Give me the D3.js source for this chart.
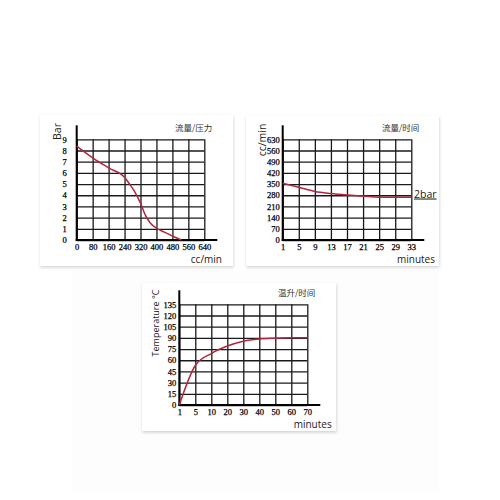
<!DOCTYPE html>
<html>
<head>
<meta charset="utf-8">
<script src="https://cdn.jsdelivr.net/npm/d3@7"></script>
<style>
  body { margin: 0; background: #fff; }
  svg { display: block; }
</style>
</head>
<body>
<div id="chart"></div>
<script>
// flow / pressure
let flowX = [0, 80, 160, 240, 265, 290, 320, 345, 370, 400, 440, 480, 525]
let pressure = [8.4, 7.35, 6.45, 5.6, 5.0, 4.35, 3.3, 2.2, 1.5, 1.05, 0.7, 0.36, 0]
let flowTicks = [0, 80, 160, 240, 320, 400, 480, 560, 640]
let barTicks = [0, 1, 2, 3, 4, 5, 6, 7, 8, 9]

// flow / time
let minutesA = [1, 5, 9, 13, 17, 21, 25, 29, 33]
let flowRate = [355, 330, 304, 291, 282, 275, 268, 267, 267]
let flowRateTicks = [0, 70, 140, 210, 280, 350, 420, 490, 560, 630]

// temperature / time
let minutesB = ['1', '5', '10', '20', '30', '40', '50', '60', '70']
let temperature = [0, 53, 69, 79, 85.5, 88.5, 89.5, 90, 90]
let tempTicks = [0, 15, 30, 45, 60, 75, 90, 105, 120, 135]

let svg = d3.select('#chart').append('svg')
    .attr('width', 500)
    .attr('height', 500)

let defs = svg.append('defs')
let shadow = defs.append('filter').attr('id', 'shadow')
    .attr('x', '-10%').attr('y', '-10%').attr('width', '120%').attr('height', '125%')
shadow.append('feDropShadow')
    .attr('dx', 0.5).attr('dy', 1.5)
    .attr('stdDeviation', 1.5)
    .attr('flood-color', '#000')
    .attr('flood-opacity', 0.18)

// faint backdrop behind the lower card
svg.append('rect')
    .attr('x', 72).attr('y', 270)
    .attr('width', 367).attr('height', 222)
    .attr('fill', '#fdfdfd')

let cards = [[40, 115, 193, 151], [246, 116, 193, 150], [142, 283, 194, 148]]
cards.forEach(function(c){
    svg.append('rect')
        .attr('x', c[0]).attr('y', c[1])
        .attr('width', c[2]).attr('height', c[3])
        .attr('fill', '#fff')
        .attr('filter', 'url(#shadow)')
})

let tickFont = '"Liberation Serif", serif'
let labelFont = '"Open Sans", "Noto Sans", sans-serif'
let red = '#b3263d'

function drawPanel(p){

    let g = svg.append('g')

    // grid
    let gy = g.append('g')
        .attr('transform', 'translate(' + p.x0 + ',0)')
        .call(d3.axisLeft(p.y).tickValues(p.yTicks)
            .tickSizeInner(-(p.x1 - p.x0)).tickSizeOuter(0).tickPadding(p.yPad))
    gy.select('.domain').remove()
    gy.selectAll('line').attr('stroke', '#1a1a1a').attr('stroke-width', 1.3)

    let gx = g.append('g')
        .attr('transform', 'translate(0,' + p.y0 + ')')
        .call(d3.axisBottom(p.x).tickValues(p.xTicks)
            .tickSizeInner(-(p.y0 - p.yTop)).tickSizeOuter(0).tickPadding(4))
    gx.select('.domain').remove()
    gx.selectAll('line').attr('stroke', '#1a1a1a').attr('stroke-width', 1.3)

    g.selectAll('.tick text')
        .attr('font-family', tickFont)
        .attr('font-size', 8.5)
        .attr('fill', '#000')
        .attr('stroke', '#000')
        .attr('stroke-width', 0.25)

    // main axes
    g.append('line')
        .attr('x1', p.x0).attr('x2', p.x0)
        .attr('y1', p.y0 + 1).attr('y2', p.yTop - 14)
        .attr('stroke', '#000').attr('stroke-width', 2)
    g.append('line')
        .attr('x1', p.x0 - 1).attr('x2', p.x1 + 13)
        .attr('y1', p.y0).attr('y2', p.y0)
        .attr('stroke', '#000').attr('stroke-width', 2)

    // curve
    let line = d3.line()
        .x(function(d){ return p.x(d[0]) })
        .y(function(d){ return p.y(d[1]) })
        .curve(d3.curveMonotoneX)

    g.append('path')
        .datum(d3.zip(p.xs, p.ys))
        .attr('d', line)
        .attr('fill', 'none')
        .attr('stroke', red)
        .attr('stroke-width', 1.5)

    // title
    g.append('text')
        .attr('x', p.x1 + 8)
        .attr('y', p.yTop - 8)
        .attr('text-anchor', 'end')
        .attr('font-family', '"Noto Sans CJK SC", sans-serif')
        .attr('font-size', 8.5)
        .attr('fill', '#333')
        .text(p.title)

    // x label
    g.append('text')
        .attr('x', p.xLabelX)
        .attr('y', p.y0 + 22.5)
        .attr('text-anchor', 'end')
        .attr('font-family', labelFont)
        .attr('font-size', 10)
        .attr('fill', '#222')
        .text(p.xLabel)

    // y label
    g.append('text')
        .attr('transform', 'translate(' + p.yLabelX + ',' + p.yLabelY + ') rotate(-90)')
        .attr('text-anchor', 'middle')
        .attr('dy', '0.35em')
        .attr('font-family', labelFont)
        .attr('font-size', p.yLabelSize)
        .attr('fill', '#222')
        .text(p.yLabel)

    return g
}

drawPanel({
    x0: 76.7, x1: 204.3, y0: 240, yTop: 139.3,
    x: d3.scaleLinear().domain([0, 640]).range([76.7, 204.3]),
    y: d3.scaleLinear().domain([0, 9]).range([240, 139.3]),
    xTicks: flowTicks, yTicks: barTicks, yPad: 10,
    xs: flowX, ys: pressure,
    title: '流量/压力', xLabel: 'cc/min', xLabelX: 222,
    yLabel: 'Bar', yLabelX: 57, yLabelY: 131.5, yLabelSize: 10.5
})

let p2 = drawPanel({
    x0: 282.7, x1: 411.3, y0: 240, yTop: 139.3,
    x: d3.scaleLinear().domain([1, 33]).range([282.7, 411.3]),
    y: d3.scaleLinear().domain([0, 630]).range([240, 139.3]),
    xTicks: minutesA, yTicks: flowRateTicks, yPad: 3,
    xs: minutesA, ys: flowRate,
    title: '流量/时间', xLabel: 'minutes', xLabelX: 435,
    yLabel: 'cc/min', yLabelX: 262, yLabelY: 140, yLabelSize: 10.5
})

p2.append('text')
    .attr('x', 414)
    .attr('y', 197.5)
    .attr('font-family', labelFont)
    .attr('font-size', 10.5)
    .attr('fill', '#222')
    .attr('text-decoration', 'underline')
    .text('2bar')

drawPanel({
    x0: 179.3, x1: 307.3, y0: 405, yTop: 304.3,
    x: d3.scalePoint().domain(minutesB).range([179.3, 307.3]),
    y: d3.scaleLinear().domain([0, 135]).range([405, 304.3]),
    xTicks: minutesB, yTicks: tempTicks, yPad: 3,
    xs: minutesB, ys: temperature,
    title: '温升/时间', xLabel: 'minutes', xLabelX: 331.7,
    yLabel: 'Temperature °C', yLabelX: 155.5, yLabelY: 323, yLabelSize: 9
})
</script>
</body>
</html>
